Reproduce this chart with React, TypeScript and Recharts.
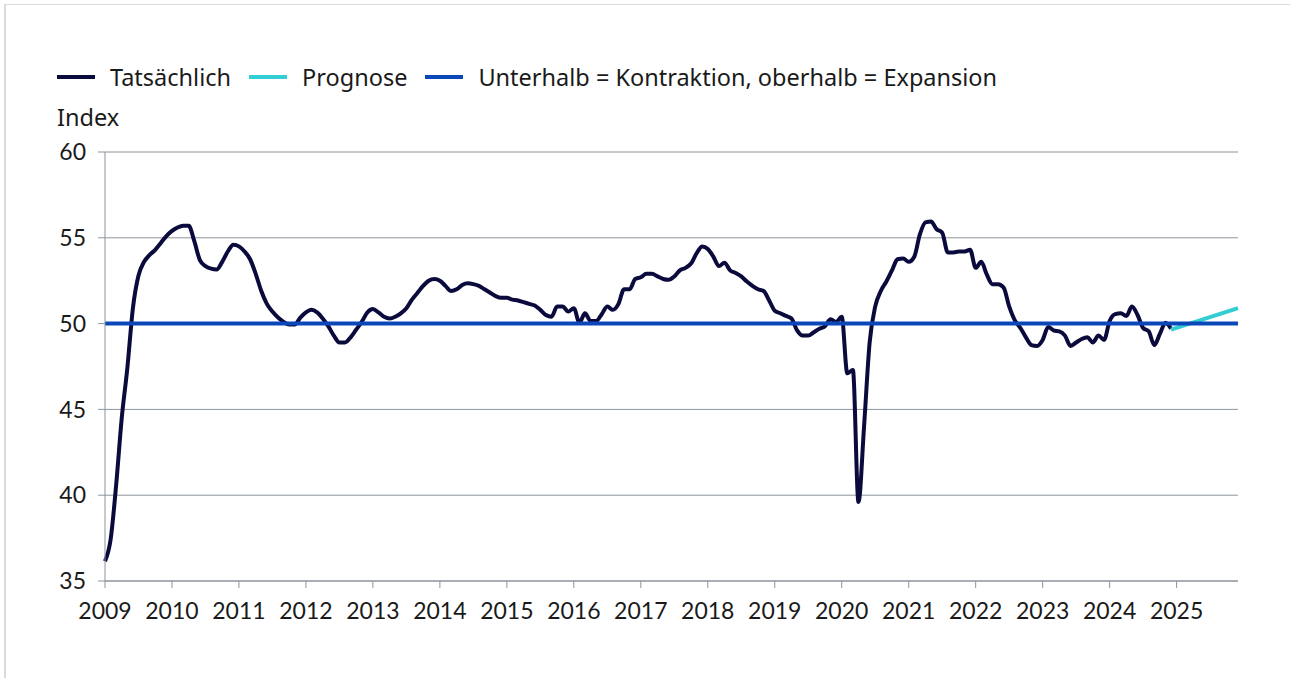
import React from "react";
import { CartesianGrid, Line, LineChart, XAxis, YAxis } from "recharts";

// Monthly index values, Jan 2009 .. Dec 2024
const actualValues = [
  36.15, 37.4, 40.6, 44.5, 47.4, 50.9, 52.8, 53.6, 54.0, 54.3, 54.7, 55.1,
  55.4, 55.6, 55.7, 55.7, 54.8, 53.7, 53.35, 53.2, 53.15, 53.6, 54.2, 54.6,
  54.5, 54.2, 53.75, 52.9, 51.9, 51.15, 50.7, 50.35, 50.1, 49.95, 49.95, 50.35,
  50.65, 50.8, 50.65, 50.3, 49.85, 49.3, 48.9, 48.9, 49.2, 49.65, 50.1, 50.65,
  50.85, 50.65, 50.4, 50.3, 50.4, 50.6, 50.9, 51.4, 51.8, 52.2, 52.5, 52.6,
  52.5, 52.2, 51.9, 52.0, 52.25, 52.35, 52.3, 52.2, 52.0, 51.8, 51.6, 51.5,
  51.5, 51.4, 51.35, 51.25, 51.15, 51.05, 50.8, 50.5, 50.4, 51.0, 51.0, 50.7,
  50.9, 50.05, 50.6, 50.15, 50.15, 50.55, 51.0, 50.8, 51.15, 52.0, 52.0, 52.6,
  52.7, 52.9, 52.9, 52.75, 52.6, 52.55, 52.75, 53.1, 53.25, 53.5, 54.1, 54.5,
  54.35, 53.9, 53.35, 53.55, 53.1, 52.95, 52.75, 52.45, 52.2, 52.0, 51.9, 51.35,
  50.75, 50.6, 50.45, 50.3, 49.6, 49.3, 49.3, 49.5, 49.7, 49.85, 50.25, 50.1,
  50.4, 47.1, 47.3, 39.6, 44.0, 48.9, 51.0, 51.9, 52.45, 53.1, 53.75, 53.8,
  53.6, 53.9, 55.2, 55.9, 55.95, 55.5, 55.3, 54.15, 54.15, 54.2, 54.2, 54.3,
  53.25, 53.6, 52.85, 52.3, 52.3, 52.1, 51.0, 50.2, 49.75, 49.2, 48.75, 48.7,
  49.05, 49.8, 49.6, 49.55, 49.3, 48.7, 48.9, 49.1, 49.2, 48.9, 49.3, 49.05,
  50.15, 50.55, 50.6, 50.45, 51.0, 50.5, 49.75, 49.55, 48.75, 49.4, 50.05, 49.7,
];

// Forecast: straight line from Dec 2024 to Dec 2025
const forecastMonths = ["2024-12", "2025-12"];
const forecastValues = [49.65, 50.9];

const thresholdValue = 50;
const startYear = 2009;
const endMonth = "2025-12";

const yearTicks = [
  2009, 2010, 2011, 2012, 2013, 2014, 2015, 2016, 2017, 2018, 2019, 2020,
  2021, 2022, 2023, 2024, 2025,
];
const indexTicks = [35, 40, 45, 50, 55, 60];

const seriesNames = [
  "Tatsächlich",
  "Prognose",
  "Unterhalb = Kontraktion, oberhalb = Expansion",
];
const seriesColors = ["#0b0a3c", "#33cdd4", "#0a48b9"];

const monthIndex = (ym: string) => {
  const [y, m] = ym.split("-").map(Number);
  return (y - startYear) * 12 + (m - 1);
};

const totalMonths = monthIndex(endMonth) + 1;

const rows = Array.from({ length: totalMonths }, (_, i) => {
  const fi = forecastMonths.findIndex((ym) => monthIndex(ym) === i);
  return {
    t: startYear + i / 12,
    actual: i < actualValues.length ? actualValues[i] : null,
    forecast: fi >= 0 ? forecastValues[fi] : null,
    threshold: thresholdValue,
  };
});

const FONT = "Lato, 'Noto Sans', sans-serif";
const LABEL_FONT = "'Noto Sans', Lato, sans-serif";
const GRID = "#8c949c";
const TEXT = "#1a1a1a";

function LegendRow() {
  return (
    <div
      style={{
        position: "absolute",
        left: 57,
        top: 63,
        display: "flex",
        alignItems: "center",
        fontSize: 23.5,
        fontFamily: LABEL_FONT,
        color: TEXT,
        lineHeight: "28px",
        whiteSpace: "nowrap",
      }}
    >
      {seriesNames.map((name, i) => (
        <div
          key={name}
          style={{ display: "flex", alignItems: "center", marginRight: 18 }}
        >
          <span
            style={{
              display: "inline-block",
              width: 38,
              height: 4,
              background: seriesColors[i],
              marginRight: 15,
            }}
          />
          <span>{name}</span>
        </div>
      ))}
    </div>
  );
}

export default function App() {
  return (
    <div
      style={{
        position: "absolute",
        left: 0,
        top: 0,
        width: 1290,
        height: 678,
        overflow: "hidden",
        background: "#fff",
        fontFamily: FONT,
      }}
    >
      <div
        style={{
          position: "absolute",
          left: 4,
          top: 4,
          width: 1284,
          height: 720,
          border: "1px solid #d6dbe1",
          borderLeftWidth: 2,
        }}
      />
      <LegendRow />
      <div
        style={{
          position: "absolute",
          left: 57,
          top: 103,
          fontSize: 23.5,
          fontFamily: LABEL_FONT,
          color: TEXT,
          lineHeight: "28px",
        }}
      >
        Index
      </div>
      <div style={{ position: "absolute", left: 0, top: 0 }}>
        <LineChart
          width={1290}
          height={678}
          data={rows}
          margin={{ top: 152, right: 52, bottom: 67, left: 0 }}
        >
          <CartesianGrid vertical={false} stroke={GRID} strokeWidth={1} />
          <XAxis
            dataKey="t"
            type="number"
            scale="linear"
            domain={[startYear, startYear + (totalMonths - 1) / 12]}
            ticks={yearTicks}
            tickFormatter={(v) => String(Math.round(v))}
            interval={0}
            stroke={GRID}
            tickSize={7}
            tickMargin={15}
            height={30}
            tick={{ fill: TEXT, fontSize: 23, fontFamily: FONT }}
          />
          <YAxis
            type="number"
            domain={[35, 60]}
            ticks={indexTicks}
            interval={0}
            stroke={GRID}
            width={105}
            tickSize={7}
            tickMargin={12}
            tick={{ fill: TEXT, fontSize: 23, fontFamily: FONT }}
          />
          <Line
            dataKey="actual"
            name={seriesNames[0]}
            type="monotone"
            stroke={seriesColors[0]}
            strokeWidth={4}
            dot={false}
            activeDot={false}
            isAnimationActive={false}
          />
          <Line
            dataKey="forecast"
            name={seriesNames[1]}
            type="linear"
            connectNulls
            stroke={seriesColors[1]}
            strokeWidth={4}
            dot={false}
            activeDot={false}
            isAnimationActive={false}
          />
          <Line
            dataKey="threshold"
            name={seriesNames[2]}
            type="linear"
            stroke={seriesColors[2]}
            strokeWidth={4}
            dot={false}
            activeDot={false}
            isAnimationActive={false}
          />
        </LineChart>
      </div>
    </div>
  );
}
